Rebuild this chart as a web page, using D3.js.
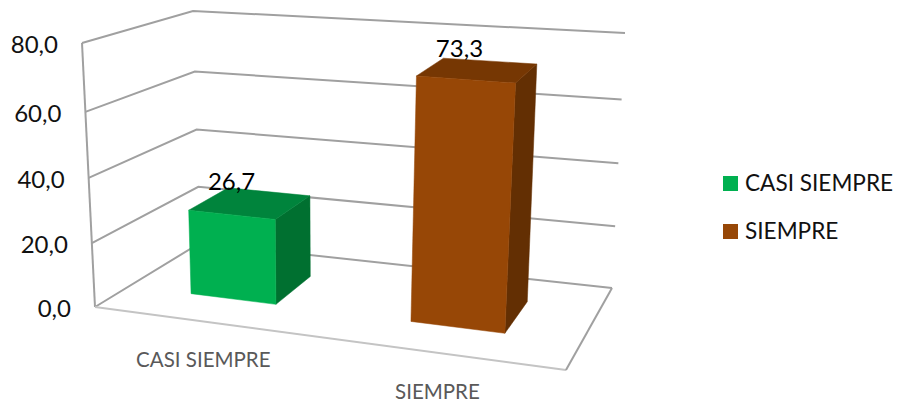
<!DOCTYPE html>
<html><head><meta charset="utf-8">
<script src="https://cdnjs.cloudflare.com/ajax/libs/d3/7.8.5/d3.min.js"></script>
<style>html,body{margin:0;padding:0;background:#fff}svg{display:block}text{font-family:Lato,"Open Sans",sans-serif}</style>
</head><body><svg id="c" width="899" height="403"></svg>
<script>
const categories = ["CASI SIEMPRE", "SIEMPRE"];
const values = [26.7, 73.3];
const valueLabels = ["26,7", "73,3"];
const tickValues = [0, 20, 40, 60, 80];
const tickLabels = ["0,0", "20,0", "40,0", "60,0", "80,0"];
const frontColors = ["#00B050", "#974706"];
const sideColors = ["#007030", "#632F03"];
const topColors = ["#00843C", "#763703"];

const svg = d3.select("#c");
// Projected corners of the 3D box: [x at value 0, y at 0, x at 80, y at 80]
const FL = [95, 307, 82, 43], FR = [566, 370, 584, 80], BL = [200, 243, 193, 11], BR = [612, 288, 625, 33];
const vScale = d3.scaleLinear().domain(tickValues).range([0, .242, .489, .739, 1]);
const band = d3.scaleBand().domain(categories).range([0, 1]).paddingInner(.6).paddingOuter(.3);
// foreshortening along the category axis
const uWarp = d3.scaleLinear().domain([.15, .35, .65, .85]).range([.136, .324, .623, .831]);
const dScale = d3.scaleLinear().domain([0, 1]).range([.33, .73]);
const labelY = d3.scaleLinear().domain(tickValues).range([317, 253, 188, 122, 53]);
function P(u, d, value) {
  const v = vScale(value);
  const col = c => [c[0] + (c[2] - c[0]) * v, c[1] + (c[3] - c[1]) * v];
  const a = col(FL), b = col(FR), c = col(BL), e = col(BR);
  const f = [a[0] + (b[0] - a[0]) * u, a[1] + (b[1] - a[1]) * u];
  const g = [c[0] + (e[0] - c[0]) * u, c[1] + (e[1] - c[1]) * u];
  return [f[0] + (g[0] - f[0]) * d, f[1] + (g[1] - f[1]) * d];
}
const line = d3.line();
const grid = svg.append("g").attr("fill", "none").attr("stroke", "#a0a0a0").attr("stroke-width", 2);
tickValues.forEach(t => {
  grid.append("path").attr("d", line([P(0, 0, t), P(0, 1, t), P(1, 1, t)]));
});
grid.append("path").attr("d", line([P(0, 0, 0), P(0, 0, 80)]));
grid.append("path").attr("stroke", "#c4c4c4").attr("d", line([P(0, 0, 0), P(1, 0, 0)]));
grid.append("path").attr("d", line([P(1, 0, 0), P(1, 1, 0)]));

tickValues.forEach((t, i) => {
  const p = P(0, 0, t);
  svg.append("text").attr("x", p[0] - 24).attr("y", labelY(t)).attr("text-anchor", "end")
    .attr("font-size", 24).attr("fill", "#111").text(tickLabels[i]);
});

categories.forEach((cat, i) => {
  const u0 = uWarp(band(cat)), u1 = uWarp(band(cat) + band.bandwidth()), u = (u0 + u1) / 2;
  const d0 = dScale(0), d1 = dScale(1), val = values[i];
  const poly = (pts, col) => svg.append("path").attr("d", line(pts) + "Z").attr("fill", col).attr("stroke", col).attr("stroke-width", .5);
  poly([P(u1, d0, 0), P(u1, d1, 0), P(u1, d1, val), P(u1, d0, val)], sideColors[i]);
  poly([P(u0, d0, val), P(u1, d0, val), P(u1, d1, val), P(u0, d1, val)], topColors[i]);
  poly([P(u0, d0, 0), P(u1, d0, 0), P(u1, d0, val), P(u0, d0, val)], frontColors[i]);
  const top = P(u, .52, val);
  svg.append("text").attr("x", top[0] - 18).attr("y", top[1] - 14).attr("text-anchor", "middle")
    .attr("font-size", 24).attr("fill", "#000").text(valueLabels[i]);
  const base = P(u, 0, 0);
  svg.append("text").attr("x", base[0]).attr("y", base[1] + 46).attr("text-anchor", "middle")
    .attr("font-size", 20.5).attr("fill", "#595959").text(cat);
});

const legendY = d3.scalePoint().domain(categories).range([183.5, 231.5]);
categories.forEach((cat, i) => {
  const y = legendY(cat);
  svg.append("rect").attr("x", 723).attr("y", y - 7.5).attr("width", 15).attr("height", 15).attr("fill", frontColors[i]);
  svg.append("text").attr("x", 745).attr("y", y + 7.5).attr("font-size", 22.6).attr("fill", "#111").text(cat);
});
</script></body></html>
